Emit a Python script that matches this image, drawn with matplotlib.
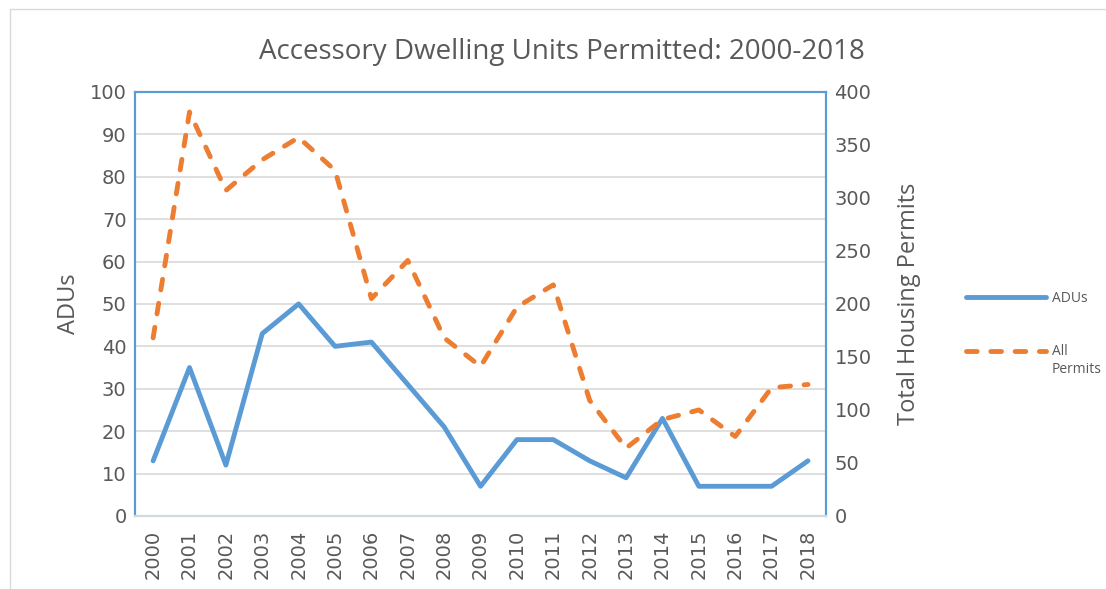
import matplotlib
matplotlib.use("Agg")
import matplotlib.pyplot as plt
from matplotlib.patches import Rectangle

plt.rcParams['font.family'] = ['DejaVu Sans']

years = [str(y) for y in range(2000, 2019)]
adus = [13, 35, 12, 43, 50, 40, 41, 31, 21, 7, 18, 18, 13, 9, 23, 7, 7, 7, 13]
all_permits = [168, 381, 307, 336, 357, 326, 205, 241, 168, 141,
               197, 218, 109, 64, 91, 100, 75, 121, 124]

blue = '#5b9bd5'
orange = '#ed7d31'
txt = '#595959'
label_font = ['Open Sans', 'DejaVu Sans']

fig = plt.figure(figsize=(11.06, 5.89), dpi=100)
fig.patches.append(Rectangle((0.009, -0.02), 1.2, 1.005, transform=fig.transFigure,
                             fill=False, edgecolor='#d9d9d9', lw=1))

ax = fig.add_axes([0.122, 0.124, 0.625, 0.72])
ax2 = ax.twinx()

x = range(len(years))
l1, = ax.plot(x, adus, color=blue, lw=3.5, solid_capstyle='round', label='ADUs')
l2, = ax2.plot(x, all_permits, color=orange, lw=3.5, ls=(0, (2.2, 2.8)),
               dash_capstyle='round', label='All')

ax.set_xlim(-0.5, len(years) - 0.5)
ax.set_ylim(0, 100)
ax2.set_ylim(0, 400)
ax.set_yticks(range(0, 101, 10))
ax2.set_yticks(range(0, 401, 50))
ax.set_xticks(list(x))
ax.set_xticklabels(years, rotation=90)

ax.grid(axis='y', color='#d9d9d9', lw=1.2)
ax.set_axisbelow(True)
ax.tick_params(axis='both', length=0, labelsize=14, colors=txt, pad=6)
ax2.tick_params(axis='y', length=0, labelsize=14, colors=txt, pad=6)
ax.tick_params(axis='x', pad=10)

for a in (ax, ax2):
    for side in ('left', 'right', 'top'):
        a.spines[side].set_color(blue)
        a.spines[side].set_linewidth(1.5)
    a.spines['bottom'].set_color('#d0d8e0')
    a.spines['bottom'].set_linewidth(1.5)

ax.set_ylabel('ADUs', fontsize=17, color=txt, labelpad=6, family=label_font)
ax2.set_ylabel('Total Housing Permits', fontsize=17, color=txt, labelpad=18, family=label_font)
fig.text(0.508, 0.912, 'Accessory Dwelling Units Permitted: 2000-2018', fontsize=20,
         color=txt, ha='center', va='center', family=label_font)

leg = fig.legend(handles=[l1, l2], loc='upper left', bbox_to_anchor=(0.862, 0.528),
                 frameon=False, prop={'family': label_font, 'size': 10}, labelcolor=txt,
                 handlelength=5.8, labelspacing=2.8, handletextpad=0.4)

# second line of the "All Permits" label, placed under "All"
fig.canvas.draw()
r = fig.canvas.get_renderer()
bb = leg.get_texts()[1].get_window_extent(r).transformed(fig.transFigure.inverted())
fig.text(bb.x0, bb.y0 - 0.004, 'Permits', fontsize=10, color=txt,
         ha='left', va='top', family=label_font)

fig.savefig('out.png', dpi=100)
